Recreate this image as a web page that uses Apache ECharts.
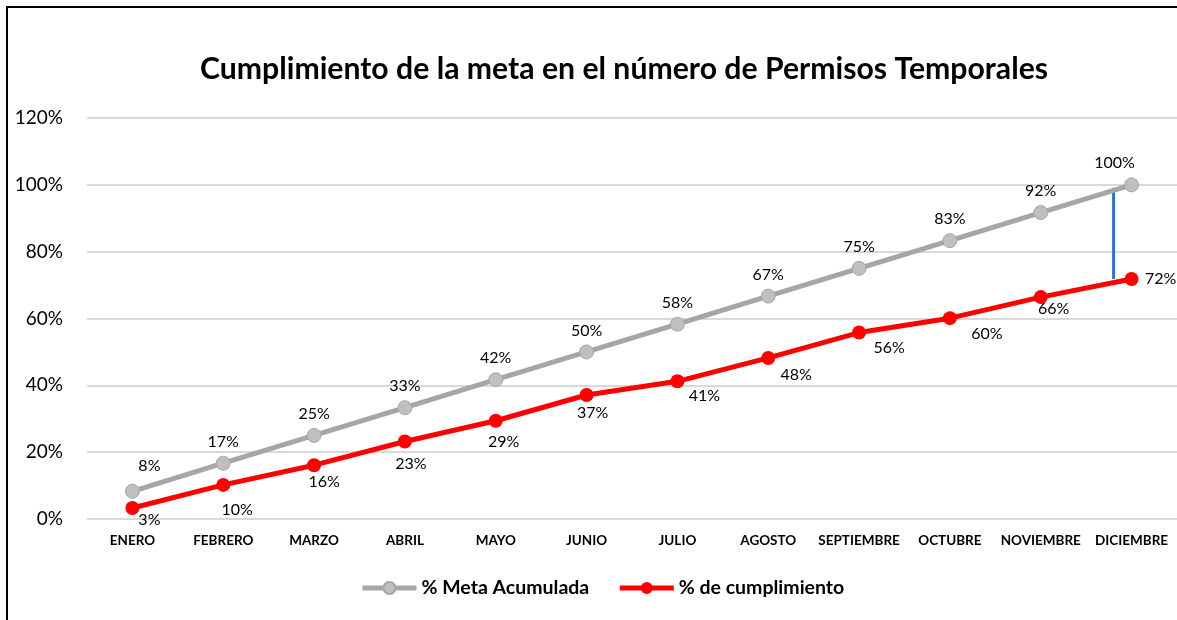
<!DOCTYPE html>
<html>
<head>
<meta charset="utf-8">
<script src="https://cdn.jsdelivr.net/npm/echarts@6/dist/echarts.min.js"></script>
<style>
  html, body { margin: 0; background: #fff; overflow: hidden; }
  #lineTop { position: absolute; left: 6px; top: 6px; width: 1200px; height: 2px; background: #000; }
  #lineLeft { position: absolute; left: 6px; top: 6px; width: 2px; height: 700px; background: #000; }
  #chart { position: absolute; left: 0; top: 0; width: 1177px; height: 620px; }
</style>
</head>
<body>
<div id="lineTop"></div>
<div id="lineLeft"></div>
<div id="chart"></div>
<script>
const months = ['ENERO', 'FEBRERO', 'MARZO', 'ABRIL', 'MAYO', 'JUNIO', 'JULIO', 'AGOSTO', 'SEPTIEMBRE', 'OCTUBRE', 'NOVIEMBRE', 'DICIEMBRE']
const metaAcumulada = [8.3, 16.7, 25, 33.3, 41.7, 50, 58.3, 66.7, 75, 83.3, 91.7, 100]
const cumplimiento = [3.3, 10.2, 16.1, 23.2, 29.4, 37.1, 41.2, 48.2, 55.8, 60.1, 66.4, 71.8]
const metaLabels = ['8%', '17%', '25%', '33%', '42%', '50%', '58%', '67%', '75%', '83%', '92%', '100%']
const cumpLabels = ['3%', '10%', '16%', '23%', '29%', '37%', '41%', '48%', '56%', '60%', '66%', '72%']
const yTicks = [0, 20, 40, 60, 80, 100, 120]

const FONT = 'Lato'
const myChart = echarts.init(document.getElementById('chart'))

// label offsets (Excel labels were dragged by hand)
const redOffsets = [[17, 12], [14, 25], [10, 17], [6, 22], [8, 21], [6, 18], [27, 15], [28, 17], [30, 15], [37, 16], [13, 12], [0, 0]]

const option = {
  animation: false,
  title: {
    text: 'Cumplimiento de la meta en el número de Permisos Temporales',
    left: 195,
    top: 49,
    textStyle: { fontFamily: FONT, fontWeight: 'bold', fontSize: 30.2, color: '#000' }
  },
  grid: { left: 87, right: -2, top: 118, bottom: 101 },
  legend: {
    bottom: 17,
    left: 355,
    itemWidth: 54,
    itemHeight: 15,
    itemGap: 28,
    lineStyle: { width: 5 },
    textStyle: { fontFamily: FONT, fontWeight: 'bold', fontSize: 19.5, color: '#000' },
    data: ['% Meta Acumulada', '% de cumplimiento']
  },
  xAxis: {
    type: 'category',
    data: months,
    axisLine: { show: false },
    axisTick: { show: false },
    axisLabel: { interval: 0, margin: 15, fontFamily: FONT, fontWeight: 'bold', fontSize: 13.5, color: '#000' }
  },
  yAxis: {
    type: 'value',
    min: yTicks[0],
    max: yTicks[yTicks.length - 1],
    interval: 20,
    axisLabel: { margin: 24, fontFamily: FONT, fontSize: 19, color: '#000', formatter: v => v + '%' },
    splitLine: { lineStyle: { color: '#d9d9d9', width: 2 } }
  },
  series: [
    {
      name: '% Meta Acumulada',
      type: 'line',
      data: metaAcumulada,
      symbol: 'circle',
      symbolSize: 14,
      lineStyle: { color: '#a6a6a6', width: 5 },
      itemStyle: { color: '#bfbfbf', borderColor: '#a6a6a6', borderWidth: 1 },
      label: {
        show: true,
        position: 'top',
        distance: 6,
        fontFamily: FONT,
        fontSize: 16,
        color: '#000',
        formatter: p => metaLabels[p.dataIndex]
      },
      labelLayout: p => p.dataIndex === 0 ? { dx: 17, dy: -4 } : (p.dataIndex === 11 ? { dx: -17 } : {})
    },
    {
      name: '% de cumplimiento',
      type: 'line',
      data: cumplimiento,
      symbol: 'circle',
      symbolSize: 14,
      lineStyle: { color: '#ff0000', width: 5 },
      itemStyle: { color: '#ff0000' },
      label: {
        show: true,
        position: 'inside',
        fontFamily: FONT,
        fontSize: 16,
        color: '#000',
        formatter: p => cumpLabels[p.dataIndex]
      },
      labelLayout: p => {
        const i = p.dataIndex
        if (i === 11) return { dx: 29, dy: 0 }
        return { dx: redOffsets[i][0], dy: redOffsets[i][1] }
      }
    },
    {
      // blue vertical connector at DICIEMBRE
      type: 'custom',
      silent: true,
      data: [[11, cumplimiento[11], metaAcumulada[11]]],
      renderItem: (params, api) => {
        const lo = api.coord([api.value(0), api.value(1)])
        const hi = api.coord([api.value(0), api.value(2)])
        return {
          type: 'line',
          shape: { x1: lo[0] - 18, y1: lo[1], x2: hi[0] - 18, y2: hi[1] + 3 },
          style: { stroke: '#2e75b6', lineWidth: 3 }
        }
      },
      z: 1
    }
  ]
}
myChart.setOption(option)
window.addEventListener('resize', () => {
  myChart.resize()
})
</script>
</body>
</html>
